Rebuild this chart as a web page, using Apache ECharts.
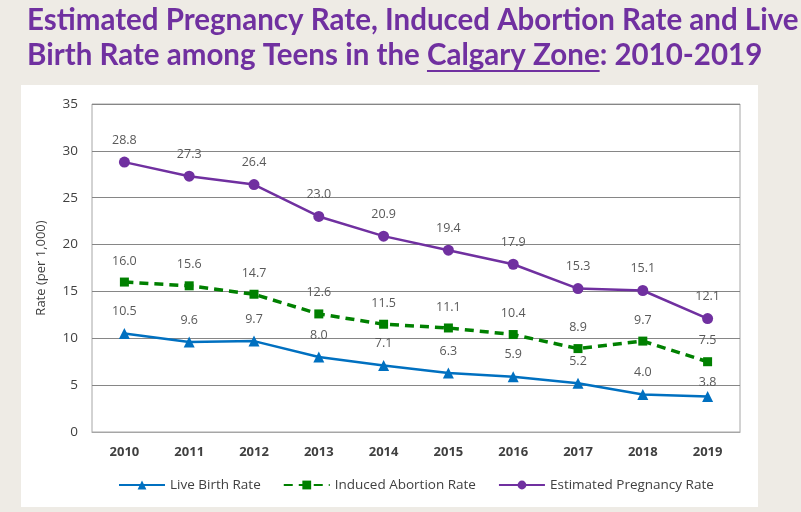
<!DOCTYPE html>
<html><head><meta charset="utf-8">
<script src="https://cdn.jsdelivr.net/npm/echarts@6/dist/echarts.min.js"></script>
<style>html,body{margin:0;padding:0;background:#EEEBE5;}#c{width:801px;height:512px;}</style>
</head><body><div id="c"></div>
<script>
var years = ['2010','2011','2012','2013','2014','2015','2016','2017','2018','2019'];
var liveBirth = [10.5, 9.6, 9.7, 8.0, 7.1, 6.3, 5.9, 5.2, 4.0, 3.8];
var abortion = [16.0, 15.6, 14.7, 12.6, 11.5, 11.1, 10.4, 8.9, 9.7, 7.5];
var pregnancy = [28.8, 27.3, 26.4, 23.0, 20.9, 19.4, 17.9, 15.3, 15.1, 12.1];
var seriesNames = ['Live Birth Rate', 'Induced Abortion Rate', 'Estimated Pregnancy Rate'];
var titleLine1 = 'Estimated Pregnancy Rate, Induced Abortion Rate and Live';
var titlePre = 'Birth Rate among Teens in the ';
var titleU = 'Calgary Zone';
var titlePost = ': 2010-2019';

var titleFont = 'bold 29.5px Lato';
var cv = document.createElement('canvas').getContext('2d');
cv.font = titleFont;
var preW = cv.measureText(titlePre).width;
var uW = cv.measureText(titleU).width;
var tx = 27;
var purple = '#7030A0';

var chart = echarts.init(document.getElementById('c'));
function lbl(){ return {show:true, position:'top', distance:10, color:'#595959', fontSize:12.5, fontFamily:'Open Sans', formatter:function(p){return p.value.toFixed(1);}}; }
function withLast(arr, dist){ return arr.map(function(v,i){ return i===arr.length-1 && dist!=null ? {value:v, label:{distance:dist}} : v; }); }
chart.setOption({
  backgroundColor:'#EEEBE5',
  animation:false,
  graphic:[
    {type:'rect', left:21, top:85, shape:{width:737, height:422}, style:{fill:'#ffffff'}, z:-10},
    {type:'text', left:tx, top:5, style:{text:titleLine1, font:titleFont, fill:purple}},
    {type:'text', left:tx, top:40, style:{text:titlePre+titleU+titlePost, font:titleFont, fill:purple}},
    {type:'line', shape:{x1:tx+preW, y1:71, x2:tx+preW+uW, y2:71}, style:{stroke:purple, lineWidth:2}}
  ],
  grid:{left:92, right:61, top:104, bottom:80, show:true, borderColor:'#A6A6A6', borderWidth:1, backgroundColor:'#ffffff'},
  legend:{bottom:15, left:113, itemWidth:46, itemHeight:11, itemGap:22,
    textStyle:{color:'#404040', fontSize:13.5, fontFamily:'Open Sans'},
    data:seriesNames},
  xAxis:{type:'category', data:years, boundaryGap:true,
    axisLine:{lineStyle:{color:'#A6A6A6'}}, axisTick:{show:false},
    axisLabel:{color:'#404040', fontSize:13, fontFamily:'Open Sans', fontWeight:'bold', margin:14}},
  yAxis:{type:'value', min:0, max:35, interval:5,
    name:'Rate (per 1,000)', nameLocation:'middle', nameGap:44, nameRotate:90,
    nameTextStyle:{color:'#404040', fontSize:13, fontFamily:'Open Sans'},
    axisLine:{show:false}, axisTick:{show:false},
    axisLabel:{color:'#404040', fontSize:13.5, fontFamily:'Open Sans', margin:14},
    splitLine:{lineStyle:{color:'#868686', width:1}}},
  series:[
    {name:seriesNames[0], type:'line', data:withLast(liveBirth, 2), symbol:'triangle', symbolSize:11,
      itemStyle:{color:'#0070C0'}, lineStyle:{color:'#0070C0', width:2.5}, label:lbl()},
    {name:seriesNames[1], type:'line', data:abortion, symbol:'rect', symbolSize:9,
      itemStyle:{color:'#008000'}, lineStyle:{color:'#008000', width:3.5, type:[9,6]}, label:lbl()},
    {name:seriesNames[2], type:'line', data:pregnancy, symbol:'circle', symbolSize:11,
      itemStyle:{color:purple}, lineStyle:{color:purple, width:2.5}, label:lbl()}
  ]
});
</script></body></html>
